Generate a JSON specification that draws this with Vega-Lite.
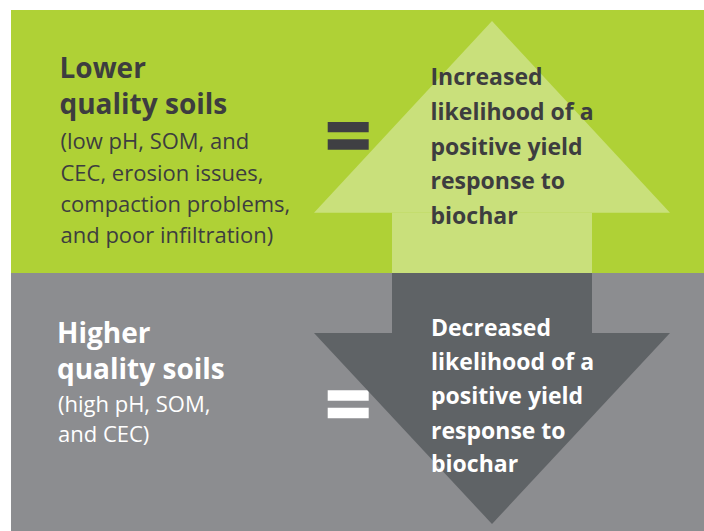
{
  "$schema": "https://vega.github.io/schema/vega-lite/v6.json",
  "width": 704,
  "height": 531,
  "autosize": {"type": "fit", "contains": "padding"},
  "padding": 0,
  "background": "#ffffff",
  "config": {"view": {"stroke": null}},
  "datasets": {
    "shapes": [
      {"kind": "panel", "tone": "green", "x": 11, "x2": 704, "y": 10, "y2": 273},
      {"kind": "panel", "tone": "gray", "x": 11, "x2": 704, "y": 273, "y2": 531},
      {"kind": "shaft", "tone": "lightgreen", "x": 392, "x2": 592, "y": 212.7, "y2": 273},
      {"kind": "shaft", "tone": "darkgray", "x": 392, "x2": 592, "y": 273, "y2": 333},
      {"kind": "equals", "tone": "eqdark", "x": 327.7, "x2": 368.7, "y": 122, "y2": 132.3},
      {"kind": "equals", "tone": "eqdark", "x": 327.7, "x2": 368.7, "y": 139.3, "y2": 149.7},
      {"kind": "equals", "tone": "eqwhite", "x": 327.7, "x2": 368.7, "y": 390.3, "y2": 400.7},
      {"kind": "equals", "tone": "eqwhite", "x": 327.7, "x2": 368.7, "y": 407.7, "y2": 418.3}
    ],
    "heads": [
      {"arrow": "up", "tone": "lightgreen", "x": 314, "y": 212.7, "y2": 212.7},
      {"arrow": "up", "tone": "lightgreen", "x": 492, "y": 21, "y2": 212.7},
      {"arrow": "up", "tone": "lightgreen", "x": 670, "y": 212.7, "y2": 212.7},
      {"arrow": "down", "tone": "darkgray", "x": 314, "y": 333, "y2": 333},
      {"arrow": "down", "tone": "darkgray", "x": 492, "y": 333, "y2": 524},
      {"arrow": "down", "tone": "darkgray", "x": 670, "y": 333, "y2": 333}
    ],
    "labels": [
      {"block": "topHead", "x": 59.5, "y": 78.3, "text": "Lower"},
      {"block": "topHead", "x": 59.5, "y": 114.3, "text": "quality soils"},
      {"block": "topSub", "x": 60.5, "y": 149.3, "text": "(low pH, SOM, and"},
      {"block": "topSub", "x": 60.5, "y": 180.5, "text": "CEC, erosion issues,"},
      {"block": "topSub", "x": 60.5, "y": 212, "text": "compaction problems,"},
      {"block": "topSub", "x": 60.5, "y": 243.3, "text": "and poor infiltration)"},
      {"block": "topRight", "x": 430.5, "y": 85, "text": "Increased"},
      {"block": "topRight", "x": 430.5, "y": 120, "text": "likelihood of a"},
      {"block": "topRight", "x": 430.5, "y": 154.5, "text": "positive yield"},
      {"block": "topRight", "x": 430.5, "y": 189, "text": "response to"},
      {"block": "topRight", "x": 430.5, "y": 223.5, "text": "biochar"},
      {"block": "botHead", "x": 57, "y": 343.3, "text": "Higher"},
      {"block": "botHead", "x": 57, "y": 379.3, "text": "quality soils"},
      {"block": "botSub", "x": 58, "y": 411.7, "text": "(high pH, SOM,"},
      {"block": "botSub", "x": 58, "y": 441.7, "text": "and CEC)"},
      {"block": "botRight", "x": 431, "y": 336, "text": "Decreased"},
      {"block": "botRight", "x": 431, "y": 370, "text": "likelihood of a"},
      {"block": "botRight", "x": 431, "y": 403.5, "text": "positive yield"},
      {"block": "botRight", "x": 431, "y": 439, "text": "response to"},
      {"block": "botRight", "x": 431, "y": 471.7, "text": "biochar"}
    ]
  },
  "encoding": {
    "x": {"field": "x", "type": "quantitative", "axis": null, "scale": {"domain": [0, 704], "nice": false, "zero": false}},
    "y": {"field": "y", "type": "quantitative", "axis": null, "scale": {"domain": [0, 531], "nice": false, "zero": false, "reverse": true}}
  },
  "layer": [
    {
      "data": {"name": "shapes"},
      "mark": {"type": "rect", "strokeWidth": 0},
      "encoding": {
        "x2": {"field": "x2"},
        "y2": {"field": "y2"},
        "color": {"field": "tone", "type": "nominal", "legend": null,
          "scale": {"domain": ["green", "gray", "lightgreen", "darkgray", "eqdark", "eqwhite"],
                    "range": ["#afd136", "#8c8d90", "#c9e07b", "#5f6366", "#3f3f43", "#ffffff"]}}
      }
    },
    {
      "data": {"name": "heads"},
      "mark": {"type": "area", "interpolate": "linear", "opacity": 1},
      "encoding": {
        "y2": {"field": "y2"},
        "detail": {"field": "arrow", "type": "nominal"},
        "color": {"field": "tone", "type": "nominal", "legend": null,
          "scale": {"domain": ["green", "gray", "lightgreen", "darkgray", "eqdark", "eqwhite"],
                    "range": ["#afd136", "#8c8d90", "#c9e07b", "#5f6366", "#3f3f43", "#ffffff"]}}
      }
    },
    {
      "data": {"name": "labels"},
      "transform": [{"filter": "datum.block === 'topHead'"}],
      "mark": {"type": "text", "align": "left", "baseline": "alphabetic", "font": "Open Sans", "fontWeight": "bold", "fontSize": 28, "color": "#3d3d3f"},
      "encoding": {"text": {"field": "text"}}
    },
    {
      "data": {"name": "labels"},
      "transform": [{"filter": "datum.block === 'topSub'"}],
      "mark": {"type": "text", "align": "left", "baseline": "alphabetic", "font": "Open Sans", "fontSize": 22, "color": "#3d3d3f"},
      "encoding": {"text": {"field": "text"}}
    },
    {
      "data": {"name": "labels"},
      "transform": [{"filter": "datum.block === 'topRight'"}],
      "mark": {"type": "text", "align": "left", "baseline": "alphabetic", "font": "Open Sans", "fontWeight": "bold", "fontSize": 23, "color": "#3d3d3f"},
      "encoding": {"text": {"field": "text"}}
    },
    {
      "data": {"name": "labels"},
      "transform": [{"filter": "datum.block === 'botHead'"}],
      "mark": {"type": "text", "align": "left", "baseline": "alphabetic", "font": "Open Sans", "fontWeight": "bold", "fontSize": 28, "color": "#ffffff"},
      "encoding": {"text": {"field": "text"}}
    },
    {
      "data": {"name": "labels"},
      "transform": [{"filter": "datum.block === 'botSub'"}],
      "mark": {"type": "text", "align": "left", "baseline": "alphabetic", "font": "Open Sans", "fontSize": 22, "color": "#ffffff"},
      "encoding": {"text": {"field": "text"}}
    },
    {
      "data": {"name": "labels"},
      "transform": [{"filter": "datum.block === 'botRight'"}],
      "mark": {"type": "text", "align": "left", "baseline": "alphabetic", "font": "Open Sans", "fontWeight": "bold", "fontSize": 23, "color": "#ffffff"},
      "encoding": {"text": {"field": "text"}}
    }
  ]
}
